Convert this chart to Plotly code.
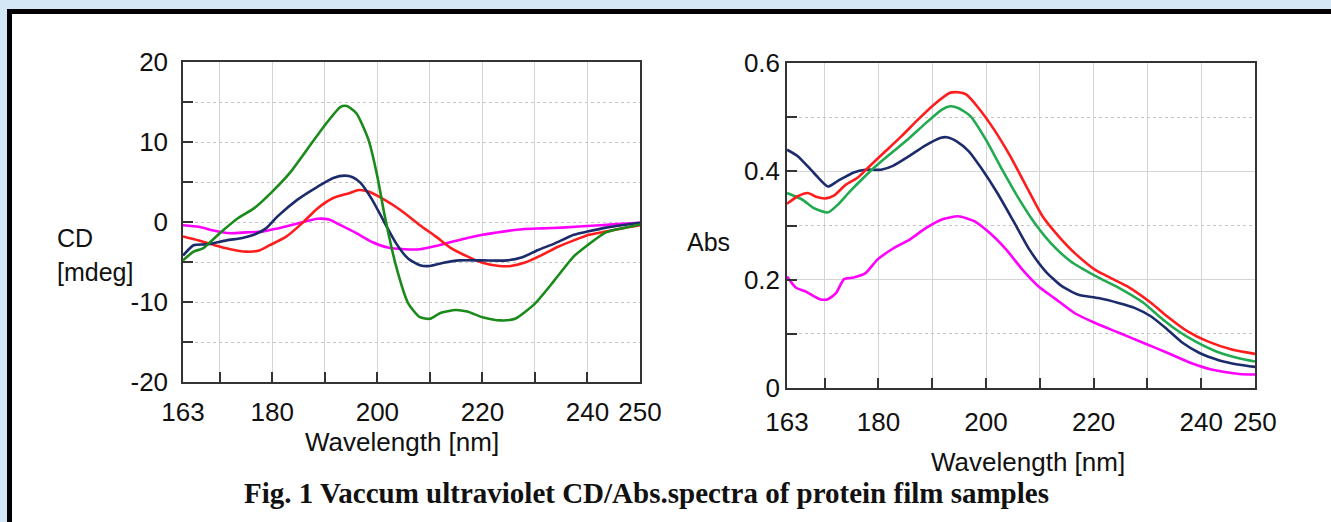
import plotly.graph_objects as go

W, H = 1331, 522

# ---------------- CD spectra (left) ----------------
cd_green_x = [163, 165, 166.8, 170, 173.5, 176.5, 180, 183.3, 187, 190, 193, 194.2, 196, 198.3, 200, 201.3,
              203.6, 205.9, 208.1, 210, 211.9, 214.9, 217.1, 220, 223.5, 226.2, 230, 233.7, 237.4, 240,
              243.5, 246.5, 250]
cd_green_y = [-4.8, -3.7, -3.3, -1.4, 0.5, 1.7, 3.8, 6.1, 9.4, 12.1, 14.4, 14.5, 13.6, 10.3, 5.7, 1.1,
              -5.6, -10.2, -11.9, -12.1, -11.4, -11.0, -11.2, -11.9, -12.3, -12.1, -10.2, -7.3, -4.3, -2.9,
              -1.3, -0.8, -0.3]

cd_navy_x = [163, 165, 167.5, 171.3, 174.3, 176.5, 178.8, 181, 184.8, 188.6, 191.6, 193.8, 195.3, 196.8, 199,
             201.3, 203.6, 205.9, 208.1, 210, 212.6, 215.6, 220, 224.7, 227.6, 230.6, 233.7, 237.4, 240,
             243.5, 246.5, 250]
cd_navy_y = [-4.2, -2.9, -2.8, -2.3, -2.0, -1.6, -0.8, 0.7, 2.8, 4.4, 5.5, 5.8, 5.6, 4.9, 2.8,
             0.0, -2.7, -4.6, -5.4, -5.5, -5.1, -4.8, -4.8, -4.8, -4.4, -3.5, -2.7, -1.6, -1.2,
             -0.7, -0.4, -0.1]

cd_red_x = [163, 166, 169, 172, 175, 177.3, 179.5, 182.5, 185.6, 188.6, 191.6, 194.6, 196.5, 198.3, 201.3,
            204.4, 208.1, 211.1, 214.1, 217.1, 220, 223.2, 225.4, 228.4, 231.4, 234.4, 237.4, 240.3, 243.5,
            246.5, 250]
cd_red_y = [-1.8, -2.3, -2.9, -3.4, -3.7, -3.6, -2.9, -1.9, -0.2, 1.7, 3.0, 3.6, 4.0, 3.8, 2.8,
            1.5, -0.4, -1.8, -3.3, -4.3, -5.1, -5.5, -5.5, -5.0, -4.1, -3.1, -2.3, -1.6, -1.2,
            -0.8, -0.4]

cd_mag_x = [163, 166, 169, 172, 175, 178.1, 181, 184.8, 188.6, 190.8, 193, 196, 199, 202, 205.1, 208.1,
            211.1, 214.1, 217.1, 220, 223.9, 227.6, 231.4, 235.2, 240, 244.9, 250]
cd_mag_y = [-0.4, -0.6, -1.1, -1.4, -1.3, -1.2, -0.8, -0.2, 0.4, 0.3, -0.4, -1.4, -2.5, -3.2, -3.4, -3.4,
            -3.0, -2.5, -2.0, -1.6, -1.2, -0.9, -0.8, -0.7, -0.5, -0.3, -0.1]

# ---------------- Absorbance spectra (right) ----------------
abs_red_x = [163, 165, 166.9, 168.4, 170.2, 171.7, 173.9, 176.1, 178.3, 181.3, 184.3, 187.3, 190.3, 193.3,
             194.8, 196.3, 198.6, 201.5, 204.5, 207.5, 210.5, 213.5, 216.5, 220.3, 223.2, 226.2, 230.7,
             233.7, 237.4, 241.2, 245.7, 250]
abs_red_y = [0.340, 0.354, 0.360, 0.353, 0.350, 0.355, 0.375, 0.388, 0.409, 0.437, 0.465, 0.495, 0.523, 0.545,
             0.546, 0.542, 0.517, 0.477, 0.428, 0.372, 0.317, 0.280, 0.249, 0.218, 0.203, 0.188, 0.157,
             0.132, 0.105, 0.086, 0.071, 0.063]

abs_green_x = [163, 165.8, 168, 170.6, 172.4, 174.7, 176.9, 179.8, 182.8, 185.8, 188.8, 191.8, 193.3, 194.8,
               197.1, 200, 203, 206, 209, 212, 215.7, 220.3, 224.7, 229.3, 232.2, 235.3, 238.9, 242.7,
               247, 250]
abs_green_y = [0.360, 0.348, 0.332, 0.324, 0.338, 0.363, 0.385, 0.412, 0.437, 0.462, 0.489, 0.514, 0.520, 0.517,
               0.502, 0.458, 0.403, 0.351, 0.305, 0.268, 0.234, 0.207, 0.185, 0.157, 0.132, 0.108, 0.086, 0.068,
               0.055, 0.049]

abs_navy_x = [163, 165, 168, 170.6, 172.4, 175.4, 177.6, 180.5, 182.7, 185.7, 188.6, 191.6, 192.7, 194.6,
              196.8, 199.1, 202.1, 205.1, 208.1, 211.1, 214.1, 217.2, 220.9, 224.6, 227.6, 230.7, 233.7,
              236.6, 239.6, 243.4, 247.1, 250]
abs_navy_y = [0.440, 0.428, 0.397, 0.372, 0.382, 0.398, 0.403, 0.403, 0.410, 0.428, 0.447, 0.462, 0.463, 0.455,
              0.437, 0.406, 0.360, 0.308, 0.255, 0.215, 0.188, 0.172, 0.166, 0.157, 0.148, 0.132, 0.108,
              0.083, 0.065, 0.051, 0.043, 0.039]

abs_mag_x = [163, 164.7, 166.5, 169.1, 170.6, 172.1, 173.6, 175.4, 177.6, 179.8, 182.8, 185.8, 188.8, 191.8,
             194.8, 197.8, 200.7, 203.8, 206.8, 209.7, 212.7, 216.5, 220.3, 224.7, 229.3, 233.7, 238.1,
             241.9, 247.1, 250]
abs_mag_y = [0.206, 0.185, 0.178, 0.164, 0.164, 0.175, 0.201, 0.204, 0.212, 0.237, 0.258, 0.274, 0.295, 0.311,
             0.317, 0.308, 0.286, 0.255, 0.218, 0.188, 0.166, 0.138, 0.120, 0.102, 0.083, 0.065, 0.046,
             0.034, 0.026, 0.025]

x_ticks = [163, 180, 200, 220, 240, 250]
x_minor = [170, 190, 210, 230]
cd_ticks = [-20, -10, 0, 10, 20]
cd_tick_text = ["-20", "-10", "0", "10", "20"]
cd_minor = [-15, -5, 5, 15]
abs_ticks = [0, 0.2, 0.4, 0.6]
abs_tick_text = ["0", "0.2", "0.4", "0.6"]
abs_minor = [0.1, 0.3, 0.5]

caption = "Fig. 1 Vaccum ultraviolet CD/Abs.spectra of protein film samples"

NAVY = "#1c2b6b"
RED = "#ff1c1c"
MAG = "#ff00ff"
GREEN_CD = "#1a8a1a"
GREEN_ABS = "#22aa50"
LW = 2.6

fig = go.Figure()

def add(x, y, color, xa, ya):
    fig.add_trace(go.Scatter(x=x, y=y, mode="lines", xaxis=xa, yaxis=ya,
                             line=dict(color=color, width=LW, shape="spline", smoothing=0.6),
                             showlegend=False, hoverinfo="skip"))

add(cd_mag_x, cd_mag_y, MAG, "x", "y")
add(cd_red_x, cd_red_y, RED, "x", "y")
add(cd_navy_x, cd_navy_y, NAVY, "x", "y")
add(cd_green_x, cd_green_y, GREEN_CD, "x", "y")

add(abs_mag_x, abs_mag_y, MAG, "x2", "y2")
add(abs_navy_x, abs_navy_y, NAVY, "x2", "y2")
add(abs_green_x, abs_green_y, GREEN_ABS, "x2", "y2")
add(abs_red_x, abs_red_y, RED, "x2", "y2")

def px(v):
    return v / W

def py(v):
    return 1 - v / H

FONT = "Liberation Sans, Arial, sans-serif"
TICKFONT = dict(family=FONT, size=26, color="#111111")
AXC = "#333333"
GRID = "#d4d4d4"

common_x = dict(range=[163, 250], tickmode="array", tickvals=x_ticks, ticks="inside", ticklen=10,
                tickwidth=1.5, tickcolor=AXC, showline=True, linecolor=AXC, linewidth=1.5, mirror=True,
                showgrid=True, gridcolor=GRID, gridwidth=1, zeroline=False, tickfont=TICKFONT,
                automargin=False,
                minor=dict(tickmode="array", tickvals=x_minor, ticks="inside", ticklen=10, tickwidth=1.5,
                           tickcolor=AXC, showgrid=True, gridcolor=GRID, gridwidth=1),
                fixedrange=True)

fig.update_layout(
    width=W, height=H,
    margin=dict(l=0, r=0, t=0, b=0, pad=0, autoexpand=False),
    paper_bgcolor="#d4e7f6",
    plot_bgcolor="white",
    showlegend=False,
    xaxis=dict(domain=[px(183), px(640)], anchor="y", ticklabelstandoff=6, **common_x),
    yaxis=dict(domain=[py(382), py(62)], anchor="x", range=[-20, 20], tickmode="array", tickvals=cd_ticks,
               ticktext=cd_tick_text,
               ticks="inside", ticklen=10, tickwidth=1.5, tickcolor=AXC, showline=True, linecolor=AXC,
               linewidth=1.5, mirror=True, showgrid=True, gridcolor="#c4c4c4", griddash="dot", zeroline=False,
               tickfont=TICKFONT, ticklabelstandoff=8, automargin=False,
               minor=dict(tickmode="array", tickvals=cd_minor, ticks="inside", ticklen=10, tickwidth=1.5,
                          tickcolor=AXC, showgrid=True, gridcolor="#c4c4c4", griddash="dot"),
               fixedrange=True),
    xaxis2=dict(domain=[px(787), px(1255)], anchor="y2", ticklabelstandoff=10, **common_x),
    yaxis2=dict(domain=[py(388), py(63)], anchor="x2", range=[0, 0.6], tickmode="array", tickvals=abs_ticks,
                ticktext=abs_tick_text,
                ticks="inside", ticklen=10, tickwidth=1.5, tickcolor=AXC, showline=True, linecolor=AXC,
                linewidth=1.5, mirror=True, showgrid=True, gridcolor=GRID, zeroline=False,
                tickfont=TICKFONT, ticklabelstandoff=0, automargin=False,
                minor=dict(tickmode="array", tickvals=abs_minor, ticks="inside", ticklen=10, tickwidth=1.5,
                           tickcolor=AXC, showgrid=True, gridcolor="#c4c4c4", griddash="dot"),
                fixedrange=True),
)

# frame: black border + white panel
fig.add_shape(type="rect", xref="paper", yref="paper", x0=px(7), x1=px(1345), y0=py(540), y1=py(9),
              fillcolor="black", line=dict(width=0), layer="below")
fig.add_shape(type="rect", xref="paper", yref="paper", x0=px(12), x1=px(1345), y0=py(540), y1=py(14),
              fillcolor="white", line=dict(width=0), layer="below")

def ann(text, x, y, size, xanchor="center", family=FONT, bold=False):
    t = f"<b>{text}</b>" if bold else text
    fig.add_annotation(text=t, x=px(x), y=py(y), xref="paper", yref="paper", showarrow=False,
                       xanchor=xanchor, yanchor="middle", font=dict(family=family, size=size, color="#111111"))

ann("CD", 55, 238, 25, xanchor="left")
ann("[mdeg]", 55, 272, 25, xanchor="left")
ann("Abs", 685, 242, 25, xanchor="left")
ann("Wavelength [nm]", 402, 442, 26)
ann("Wavelength [nm]", 1028, 462, 26)
ann(caption, 646, 493, 29, family="Liberation Serif, Times New Roman, serif", bold=True)

fig.write_html("out.html", config={"displayModeBar": False},
               post_script="document.body.style.margin='0';document.body.style.overflow='hidden';")
